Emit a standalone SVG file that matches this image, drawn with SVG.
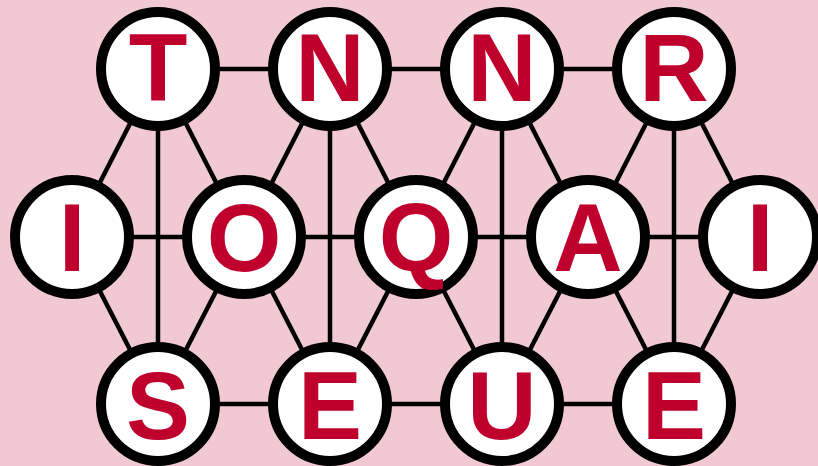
<svg xmlns="http://www.w3.org/2000/svg" width="818" height="466" viewBox="0 0 818 466">
<style>
.e{stroke:#000;stroke-width:4.5;fill:none}
.n circle{fill:#fff;stroke:#000;stroke-width:10}
.n text{font-family:"Liberation Sans",Arial,sans-serif;font-weight:bold;font-size:96px;fill:#bf002d;text-anchor:middle}
</style>
<rect width="818" height="466" fill="#f0c9d2"/>
<g id="edges">
<line class="e" x1="158" y1="69" x2="674" y2="69"/>
<line class="e" x1="72" y1="237" x2="760" y2="237"/>
<line class="e" x1="158" y1="404" x2="674" y2="404"/>
<line class="e" x1="158" y1="69" x2="158" y2="404"/>
<line class="e" x1="330" y1="69" x2="330" y2="404"/>
<line class="e" x1="502" y1="69" x2="502" y2="404"/>
<line class="e" x1="674" y1="69" x2="674" y2="404"/>
<line class="e" x1="158" y1="69" x2="72" y2="237"/>
<line class="e" x1="158" y1="69" x2="244" y2="237"/>
<line class="e" x1="330" y1="69" x2="244" y2="237"/>
<line class="e" x1="330" y1="69" x2="416" y2="237"/>
<line class="e" x1="502" y1="69" x2="416" y2="237"/>
<line class="e" x1="502" y1="69" x2="588" y2="237"/>
<line class="e" x1="674" y1="69" x2="588" y2="237"/>
<line class="e" x1="674" y1="69" x2="760" y2="237"/>
<line class="e" x1="158" y1="404" x2="72" y2="237"/>
<line class="e" x1="158" y1="404" x2="244" y2="237"/>
<line class="e" x1="330" y1="404" x2="244" y2="237"/>
<line class="e" x1="330" y1="404" x2="416" y2="237"/>
<line class="e" x1="502" y1="404" x2="416" y2="237"/>
<line class="e" x1="502" y1="404" x2="588" y2="237"/>
<line class="e" x1="674" y1="404" x2="588" y2="237"/>
<line class="e" x1="674" y1="404" x2="760" y2="237"/>
</g>
<g id="n1" class="n"><circle cx="158" cy="69" r="57"/><text x="158" y="101">T</text></g>
<g id="n2" class="n"><circle cx="330" cy="69" r="57"/><text x="330" y="101">N</text></g>
<g id="n3" class="n"><circle cx="502" cy="69" r="57"/><text x="502" y="101">N</text></g>
<g id="n4" class="n"><circle cx="674" cy="69" r="57"/><text x="674" y="101">R</text></g>
<g id="n5" class="n"><circle cx="72" cy="237" r="57"/><text x="72" y="271">I</text></g>
<g id="n6" class="n"><circle cx="244" cy="237" r="57"/><text x="244" y="271">O</text></g>
<g id="n7" class="n"><circle cx="416" cy="237" r="57"/><text x="416" y="271">Q</text></g>
<g id="n8" class="n"><circle cx="588" cy="237" r="57"/><text x="588" y="271">A</text></g>
<g id="n9" class="n"><circle cx="760" cy="237" r="57"/><text x="760" y="271">I</text></g>
<g id="n10" class="n"><circle cx="158" cy="404" r="57"/><text x="158" y="439">S</text></g>
<g id="n11" class="n"><circle cx="330" cy="404" r="57"/><text x="330" y="439">E</text></g>
<g id="n12" class="n"><circle cx="502" cy="404" r="57"/><text x="502" y="439">U</text></g>
<g id="n13" class="n"><circle cx="674" cy="404" r="57"/><text x="674" y="439">E</text></g>
</svg>
